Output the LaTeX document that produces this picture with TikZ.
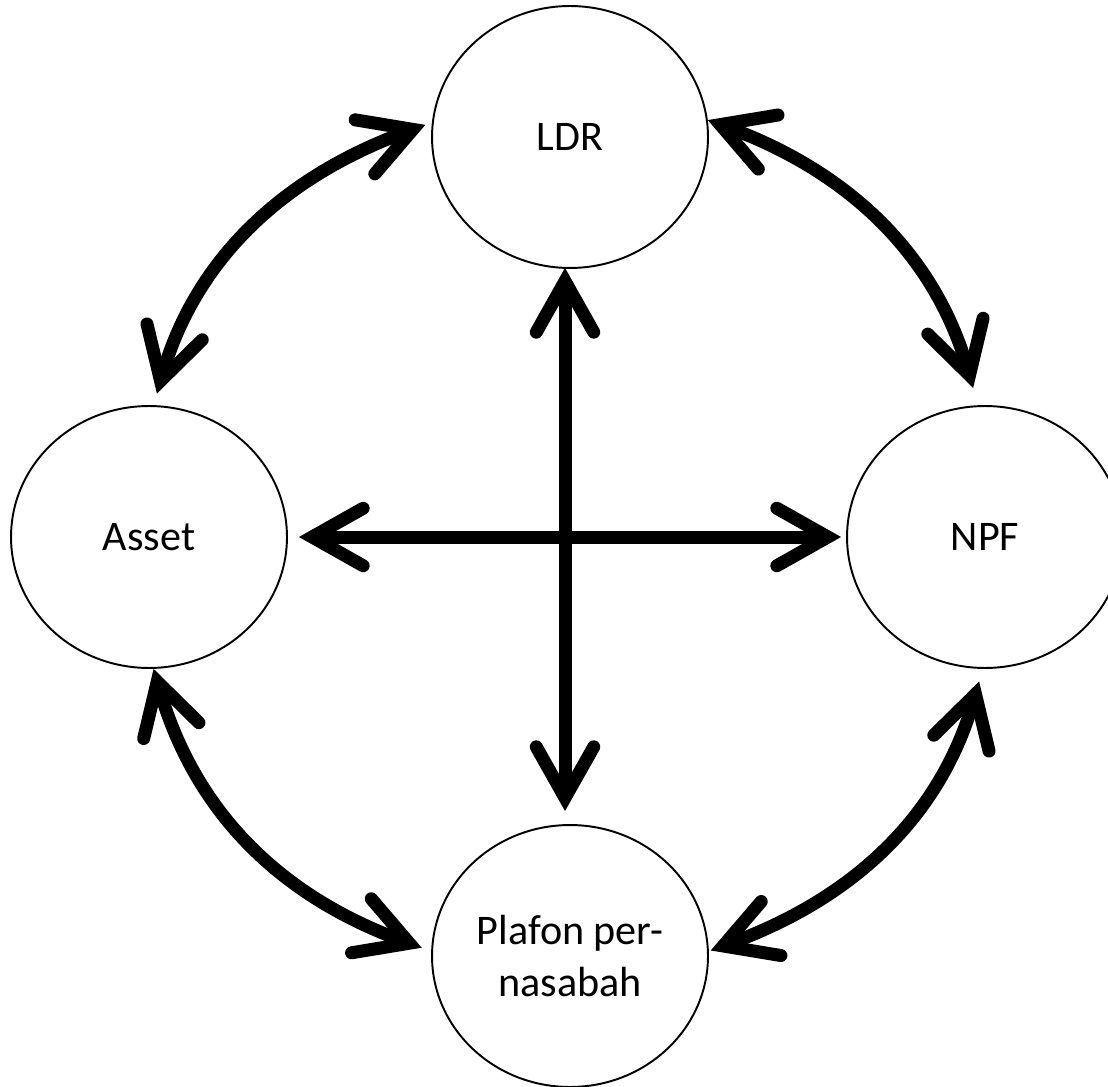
\documentclass[tikz,border=0pt]{standalone}
\usepackage{fontspec}
\setmainfont{Carlito}
\usetikzlibrary{shapes.geometric, arrows.meta, positioning, calc}

\begin{document}
\begin{tikzpicture}[
  x=0.02cm, y=-0.02cm,
  var/.style={draw, ellipse, line width=1.1pt, inner sep=0pt, minimum width=5.52cm, minimum height=5.24cm, align=center, font=\fontsize{24}{29.5}\selectfont},
  link/.style={line width=0.26cm, line cap=round, {Straight Barb[length=1.02cm, width=1.15cm, line join=miter, line cap=round]}-{Straight Barb[length=1.02cm, width=1.15cm, line join=miter, line cap=round]}},
]
  \useasboundingbox (0,0) rectangle (1108,1087);
  \node[var] (ldr) at (570, 137) {LDR};
  \node[var] (asset) at (149, 537) {Asset};
  \node[var] (npf) at (985, 537) {NPF};
  \node[var] (plafon) at (570, 956) {Plafon per-\\nasabah};

  % cross
  \draw[link, shorten <=-0.02cm, shorten >=0.26cm] ([xshift=-0.1cm]ldr.south) -- ([xshift=-0.1cm]plafon.north);
  \draw[link, shorten <=0.22cm, shorten >=0.1cm] (asset.east) -- (npf.west);

  % ring
  \draw[link, shorten <=0.14cm, shorten >=0.24cm] (ldr.174) to[out=200, in=74] (asset.88);
  \draw[link, shorten <=0cm, shorten >=0.36cm] (ldr.7) to[out=-20, in=106] (npf.93);
  \draw[link, shorten <=0cm, shorten >=0.2cm] (asset.272) to[out=-74, in=160] (plafon.178);
  \draw[link, shorten <=0.26cm, shorten >=0.04cm] (npf.269) to[out=-106, in=20] (plafon.2);
\end{tikzpicture}
\end{document}
